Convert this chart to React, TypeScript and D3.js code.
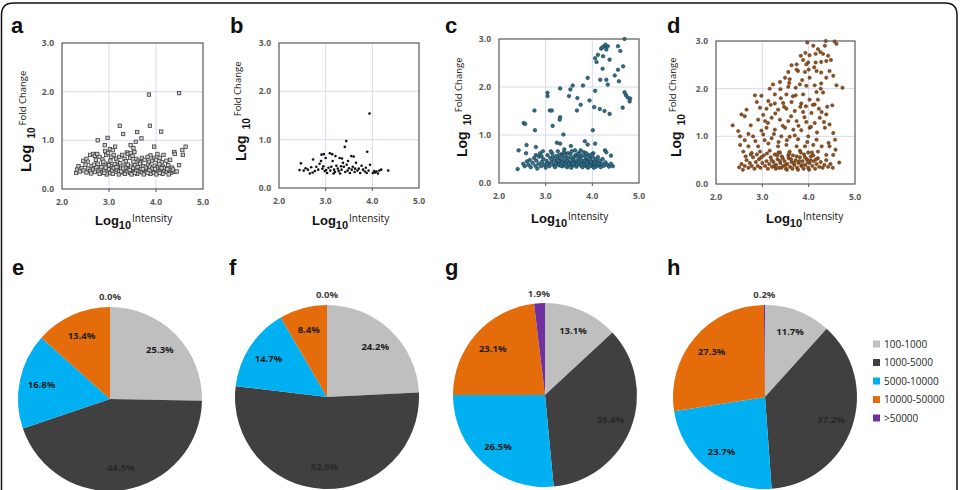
import * as d3 from 'd3';

// axis ticks shared by the four scatter plots
const intensityTicks = [2, 3, 4, 5];
const foldTicks = [0, 1, 2, 3];

// intensity bins used by the pies and the legend
const sizeBins = ['100-1000', '1000-5000', '5000-10000', '10000-50000', '>50000'];
const binColours = ['#BFBFBF', '#404040', '#00B0F0', '#E46C0A', '#7030A0'];

// percentage of proteins in each bin
const shareE = [25.3, 44.5, 16.8, 13.4, 0.0];
const shareF = [24.2, 52.6, 14.7, 8.4, 0.0];
const shareG = [13.1, 35.4, 26.5, 23.1, 1.9];
const shareH = [11.7, 37.2, 23.7, 27.3, 0.2];

type Pt = [number, number];

// [log10 intensity, log10 fold change]
const pointsA: Pt[] = [
  [3.85, 1.94], [4.49, 1.97], [3.23, 1.3], [3.87, 1.3], [3.3, 1.13], [3.6, 1.17], [4.11, 1.18], [2.76, 1.0],
  [2.97, 1.05], [3.69, 1.04], [3.57, 0.97], [3.46, 0.9], [3.96, 0.87], [2.91, 0.9], [3.13, 0.87], [4.63, 0.87],
  [4.56, 0.8], [4.39, 0.76], [4.57, 0.7], [4.49, 0.49], [3.02, 0.82], [3.08, 0.8], [2.92, 0.78], [3.52, 0.84],
  [3.38, 0.75], [3.4, 0.72], [3.46, 0.74], [3.54, 0.76], [4.03, 0.72], [3.88, 0.69], [4.16, 0.7], [3.96, 0.64],
  [4.4, 0.72], [2.45, 0.58], [2.52, 0.62], [2.6, 0.7], [2.66, 0.72], [2.7, 0.68], [2.75, 0.72], [2.8, 0.66],
  [2.86, 0.61], [2.94, 0.7], [2.98, 0.74], [3.05, 0.66], [3.1, 0.7], [3.15, 0.62], [3.22, 0.66], [3.28, 0.7],
  [3.33, 0.62], [3.45, 0.64], [3.5, 0.68], [3.58, 0.62], [3.63, 0.58], [3.7, 0.64], [3.76, 0.6], [3.82, 0.66],
  [3.91, 0.58], [4.0, 0.6], [4.08, 0.64], [4.22, 0.58], [4.3, 0.6], [2.55, 0.56], [2.72, 0.6], [2.88, 0.56],
  [3.03, 0.58], [3.18, 0.56], [3.36, 0.57], [3.52, 0.56], [3.67, 0.55], [3.85, 0.56], [4.12, 0.55],
  [2.3, 0.33], [2.32, 0.4], [2.35, 0.47], [2.38, 0.36], [2.42, 0.43], [2.46, 0.38], [2.5, 0.5], [2.52, 0.34],
  [2.56, 0.42], [2.6, 0.37], [2.63, 0.47], [2.66, 0.4], [2.7, 0.35], [2.73, 0.45], [2.76, 0.52], [2.78, 0.38],
  [2.82, 0.42], [2.85, 0.34], [2.88, 0.48], [2.9, 0.39], [2.93, 0.44], [2.96, 0.36], [2.98, 0.52], [3.0, 0.41],
  [3.02, 0.33], [3.05, 0.47], [3.07, 0.38], [3.1, 0.43], [3.12, 0.51], [3.14, 0.35], [3.17, 0.4], [3.19, 0.46],
  [3.22, 0.37], [3.24, 0.53], [3.26, 0.42], [3.29, 0.34], [3.31, 0.48], [3.33, 0.39], [3.36, 0.44], [3.38, 0.36],
  [3.4, 0.5], [3.42, 0.41], [3.45, 0.33], [3.47, 0.46], [3.49, 0.38], [3.52, 0.43], [3.54, 0.35], [3.56, 0.49],
  [3.59, 0.4], [3.61, 0.45], [3.63, 0.36], [3.66, 0.52], [3.68, 0.41], [3.7, 0.34], [3.73, 0.47], [3.75, 0.39],
  [3.78, 0.44], [3.8, 0.35], [3.83, 0.5], [3.85, 0.4], [3.87, 0.46], [3.9, 0.37], [3.92, 0.42], [3.95, 0.33],
  [3.97, 0.48], [4.0, 0.39], [4.02, 0.44], [4.05, 0.36], [4.07, 0.51], [4.1, 0.4], [4.13, 0.34], [4.15, 0.46],
  [4.18, 0.38], [4.2, 0.43], [4.23, 0.35], [4.26, 0.49], [4.28, 0.39], [4.31, 0.33], [4.34, 0.44], [4.37, 0.37],
  [4.4, 0.35], [4.44, 0.36], [2.62, 0.32], [2.8, 0.31], [2.95, 0.3], [3.08, 0.31], [3.21, 0.3], [3.34, 0.31],
  [3.48, 0.3], [3.6, 0.31], [3.74, 0.3], [3.88, 0.31], [4.01, 0.3], [4.14, 0.31], [4.27, 0.3], [2.68, 0.5],
  [2.84, 0.45], [3.0, 0.49], [3.16, 0.45], [3.3, 0.42], [3.44, 0.39], [3.58, 0.37], [3.72, 0.41], [3.86, 0.38],
  [3.98, 0.41], [4.12, 0.43], [4.24, 0.41], [4.36, 0.4], [2.9, 0.33], [3.26, 0.36], [3.55, 0.33], [3.82, 0.33],
  [4.08, 0.33],
];

const pointsB: Pt[] = [
  [3.94, 1.54], [3.44, 0.97], [3.41, 0.85], [3.89, 0.75], [2.91, 0.69], [2.96, 0.7], [3.09, 0.72], [3.14, 0.7],
  [3.21, 0.66], [3.3, 0.62], [3.55, 0.66], [3.6, 0.65], [2.73, 0.59], [2.47, 0.51], [2.44, 0.37], [2.57, 0.41],
  [2.62, 0.38], [2.66, 0.3], [2.72, 0.32], [2.8, 0.44], [2.84, 0.38], [2.87, 0.5], [2.9, 0.56], [2.95, 0.45],
  [2.98, 0.35], [3.01, 0.37], [3.03, 0.31], [3.06, 0.42], [3.12, 0.44], [3.15, 0.56], [3.18, 0.38], [3.2, 0.33],
  [3.23, 0.46], [3.26, 0.4], [3.28, 0.35], [3.31, 0.3], [3.34, 0.38], [3.37, 0.52], [3.39, 0.44], [3.42, 0.33],
  [3.45, 0.48], [3.47, 0.36], [3.5, 0.41], [3.52, 0.31], [3.56, 0.38], [3.58, 0.44], [3.62, 0.33], [3.65, 0.52],
  [3.68, 0.36], [3.71, 0.4], [3.74, 0.31], [3.77, 0.46], [3.8, 0.38], [3.84, 0.34], [3.86, 0.42], [3.92, 0.36],
  [3.95, 0.48], [4.01, 0.31], [4.04, 0.35], [4.09, 0.34], [4.12, 0.3], [4.15, 0.36], [4.19, 0.38], [4.34, 0.36],
  [2.53, 0.36], [2.69, 0.43], [2.77, 0.35], [2.93, 0.4], [3.1, 0.36], [3.17, 0.3], [3.33, 0.45], [3.48, 0.56],
  [3.63, 0.4], [3.88, 0.31], [4.06, 0.32], [3.35, 0.61], [3.0, 0.62],
];

const pointsC: Pt[] = [
  [4.69, 3.0], [4.55, 2.85], [4.6, 2.75], [4.26, 2.85], [4.19, 2.8], [4.33, 2.85], [4.12, 2.67], [4.06, 2.6],
  [4.23, 2.64], [4.37, 2.57], [4.09, 2.52], [4.66, 2.43], [4.55, 2.36], [4.22, 2.38], [4.48, 2.24], [4.3, 2.15],
  [4.17, 2.15], [3.9, 2.19], [4.57, 2.12], [4.33, 2.05], [3.58, 2.03], [3.8, 2.03], [3.53, 1.95], [3.31, 1.97],
  [3.04, 1.88], [3.04, 1.81], [4.06, 1.92], [4.69, 1.89], [4.72, 1.83], [4.76, 1.78], [4.81, 1.76], [4.8, 1.7],
  [3.94, 1.72], [3.5, 1.81], [3.68, 1.77], [3.75, 1.63], [4.04, 1.58], [4.16, 1.54], [4.26, 1.5], [4.37, 1.44],
  [4.65, 1.57], [3.67, 1.51], [3.09, 1.51], [3.13, 1.51], [2.76, 1.51], [3.31, 1.37], [3.3, 1.32], [3.15, 1.19],
  [2.53, 1.25], [2.56, 1.23], [2.77, 1.1], [4.01, 1.1], [3.38, 1.01], [2.59, 0.79], [2.79, 0.75], [2.42, 0.68],
  [3.24, 0.84], [3.31, 0.82], [3.54, 0.77], [3.84, 0.87], [3.9, 0.8], [4.06, 0.82], [4.27, 0.68], [4.3, 0.64],
  [4.4, 0.57], [2.4, 0.29], [4.28, 2.88], [4.22, 2.83], [4.3, 2.78],
  [2.52, 0.4], [2.55, 0.35], [2.6, 0.45], [2.63, 0.38], [2.68, 0.33], [2.72, 0.42], [2.75, 0.52], [2.78, 0.36],
  [2.8, 0.47], [2.82, 0.3], [2.85, 0.4], [2.86, 0.55], [2.88, 0.62], [2.9, 0.35], [2.92, 0.44], [2.95, 0.5],
  [2.97, 0.38], [3.0, 0.32], [3.02, 0.46], [3.04, 0.58], [3.06, 0.4], [3.08, 0.35], [3.1, 0.52], [3.12, 0.44],
  [3.14, 0.62], [3.16, 0.38], [3.18, 0.48], [3.2, 0.33], [3.22, 0.56], [3.24, 0.42], [3.26, 0.66], [3.28, 0.37],
  [3.3, 0.5], [3.32, 0.44], [3.34, 0.6], [3.36, 0.35], [3.38, 0.46], [3.4, 0.7], [3.42, 0.4], [3.44, 0.54],
  [3.46, 0.33], [3.48, 0.62], [3.5, 0.44], [3.52, 0.38], [3.54, 0.52], [3.56, 0.66], [3.58, 0.36], [3.6, 0.48],
  [3.62, 0.42], [3.64, 0.58], [3.66, 0.34], [3.68, 0.46], [3.7, 0.62], [3.72, 0.4], [3.74, 0.52], [3.76, 0.36],
  [3.78, 0.56], [3.8, 0.44], [3.82, 0.64], [3.84, 0.38], [3.86, 0.5], [3.88, 0.34], [3.9, 0.46], [3.92, 0.58],
  [3.94, 0.4], [3.96, 0.52], [3.98, 0.36], [4.0, 0.44], [4.02, 0.62], [4.04, 0.38], [4.06, 0.48], [4.08, 0.34],
  [4.1, 0.42], [4.12, 0.54], [4.14, 0.37], [4.16, 0.46], [4.18, 0.33], [4.2, 0.4], [4.22, 0.5], [4.25, 0.36],
  [4.28, 0.43], [4.32, 0.38], [4.36, 0.34], [4.4, 0.4], [4.44, 0.35],
  [3.21, 0.4], [3.25, 0.5], [3.29, 0.58], [3.33, 0.36], [3.37, 0.54], [3.41, 0.62], [3.45, 0.46], [3.49, 0.4],
  [3.53, 0.6], [3.57, 0.44], [3.61, 0.54], [3.65, 0.4], [3.69, 0.54], [3.73, 0.6], [3.77, 0.46], [3.81, 0.38],
  [3.85, 0.56], [3.89, 0.42], [3.93, 0.5], [3.97, 0.44], [4.01, 0.54], [4.05, 0.42], [4.09, 0.5], [4.13, 0.4],
  [3.35, 0.42], [3.47, 0.52], [3.59, 0.4], [3.71, 0.44], [3.83, 0.46], [3.95, 0.36], [3.43, 0.36], [3.55, 0.32],
  [3.67, 0.38], [3.79, 0.33], [3.91, 0.32], [4.03, 0.32], [3.39, 0.64], [3.63, 0.68], [3.75, 0.68], [3.87, 0.62],
  [3.99, 0.6], [3.27, 0.46], [3.15, 0.54], [3.03, 0.4], [2.91, 0.56], [2.79, 0.58], [2.66, 0.48], [2.58, 0.62],
  [2.94, 0.66], [3.11, 0.66],
];

const pointsD: Pt[] = [
  [3.97, 2.97], [4.37, 3.0], [4.6, 2.94], [4.56, 2.99], [4.2, 2.83], [4.25, 2.77], [4.15, 2.73], [4.31, 2.73],
  [4.42, 2.69], [4.02, 2.7], [3.83, 2.69], [3.88, 2.6], [3.99, 2.55], [3.95, 2.51], [3.74, 2.51], [3.63, 2.49],
  [4.15, 2.55], [4.27, 2.56], [4.38, 2.58], [3.77, 2.37], [3.56, 2.35], [3.92, 2.35], [4.02, 2.23], [4.17, 2.37],
  [4.27, 2.34], [4.45, 2.37], [4.53, 2.27], [4.38, 2.23], [3.49, 2.23], [3.59, 2.2], [3.38, 2.14], [3.23, 2.09],
  [3.16, 2.0], [3.39, 1.99], [3.56, 2.04], [3.72, 2.02], [3.81, 2.09], [3.95, 2.06], [4.13, 2.07], [4.27, 2.11],
  [4.6, 2.07], [4.73, 2.02], [4.17, 1.93], [4.31, 1.92], [3.27, 1.88], [2.84, 1.86], [2.98, 1.85], [3.52, 1.88],
  [3.72, 1.86], [3.88, 1.88], [4.02, 1.77], [4.2, 1.77], [3.13, 1.74], [3.27, 1.69], [2.88, 1.72], [3.45, 1.7],
  [3.63, 1.72], [3.84, 1.69], [3.94, 1.63], [4.13, 1.67], [4.51, 1.65], [2.66, 1.56], [2.55, 1.46], [2.62, 1.42],
  [2.95, 1.6], [3.09, 1.58], [3.34, 1.56], [3.52, 1.58], [3.7, 1.53], [3.88, 1.51], [4.06, 1.49], [4.28, 1.51],
  [4.38, 1.46], [4.24, 1.39], [2.91, 1.35], [3.06, 1.32], [3.2, 1.39], [3.38, 1.35], [3.56, 1.32], [3.74, 1.32],
  [3.95, 1.3], [4.13, 1.28], [2.36, 1.23], [2.75, 1.23], [3.09, 1.18], [3.27, 1.14], [3.49, 1.18], [3.67, 1.14],
  [3.84, 1.13], [4.02, 1.18], [4.35, 1.18], [4.45, 1.25], [2.48, 1.11], [2.52, 1.0], [2.8, 1.0], [3.02, 1.04],
  [3.2, 0.96], [3.41, 1.0], [3.59, 0.99], [3.77, 0.94], [3.99, 1.0], [4.17, 0.93], [4.53, 1.07], [4.57, 0.93],
  [2.52, 0.82], [2.7, 0.79], [2.91, 0.79], [3.13, 0.85], [3.34, 0.79], [3.52, 0.82], [3.74, 0.79], [3.92, 0.79],
  [4.1, 0.82], [4.28, 0.79], [4.45, 0.79], [4.58, 0.72], [2.59, 0.68], [2.77, 0.65], [2.95, 0.68], [3.16, 0.7],
  [3.38, 0.66], [3.59, 0.68], [3.81, 0.7], [3.99, 0.66], [4.2, 0.68], [4.38, 0.61], [4.53, 0.61], [4.66, 0.45],
  [2.62, 0.92], [2.7, 1.05], [2.85, 0.9], [2.98, 1.12], [3.05, 0.92], [3.12, 1.28], [3.25, 1.05], [3.28, 1.48],
  [3.35, 0.88], [3.44, 1.22], [3.47, 1.62], [3.53, 0.92], [3.62, 1.42], [3.66, 1.84], [3.7, 1.02], [3.78, 1.22],
  [3.82, 1.62], [3.86, 2.18], [3.91, 1.4], [3.97, 0.88], [4.05, 1.2], [4.09, 1.66], [4.12, 2.45], [4.18, 1.08],
  [4.22, 1.58], [4.26, 2.0], [4.33, 1.3], [4.4, 1.62], [4.48, 2.6], [4.43, 0.86], [3.02, 1.45], [3.18, 1.66],
  [3.4, 1.8], [3.58, 2.12], [3.74, 2.4], [3.93, 2.75], [4.0, 2.4], [4.1, 2.9], [4.35, 2.9],
  [2.5, 0.35], [2.55, 0.42], [2.58, 0.3], [2.62, 0.38], [2.66, 0.5], [2.7, 0.34], [2.73, 0.44], [2.77, 0.38],
  [2.8, 0.56], [2.83, 0.32], [2.86, 0.46], [2.9, 0.38], [2.93, 0.52], [2.96, 0.34], [3.0, 0.44], [3.03, 0.6],
  [3.06, 0.38], [3.09, 0.48], [3.12, 0.32], [3.15, 0.42], [3.18, 0.56], [3.21, 0.36], [3.24, 0.46], [3.27, 0.62],
  [3.3, 0.4], [3.33, 0.52], [3.36, 0.34], [3.39, 0.44], [3.42, 0.58], [3.45, 0.38], [3.48, 0.48], [3.51, 0.32],
  [3.54, 0.42], [3.57, 0.54], [3.6, 0.36], [3.63, 0.46], [3.66, 0.6], [3.69, 0.4], [3.72, 0.5], [3.75, 0.34],
  [3.78, 0.44], [3.81, 0.56], [3.84, 0.38], [3.87, 0.48], [3.9, 0.62], [3.93, 0.4], [3.96, 0.52], [3.99, 0.34],
  [4.02, 0.44], [4.05, 0.58], [4.08, 0.38], [4.11, 0.48], [4.14, 0.32], [4.17, 0.42], [4.2, 0.54], [4.23, 0.36],
  [4.26, 0.46], [4.3, 0.34], [4.34, 0.4], [4.38, 0.5], [4.42, 0.36], [4.47, 0.42], [4.52, 0.34],
  [3.2, 0.5], [3.26, 0.38], [3.32, 0.6], [3.38, 0.48], [3.44, 0.54], [3.5, 0.4], [3.56, 0.6], [3.62, 0.52],
  [3.68, 0.44], [3.74, 0.58], [3.8, 0.48], [3.86, 0.4], [3.92, 0.56], [3.98, 0.46], [4.04, 0.5], [4.1, 0.6],
  [4.16, 0.52], [3.29, 0.32], [3.41, 0.34], [3.53, 0.3], [3.65, 0.32], [3.77, 0.3], [3.89, 0.32], [4.01, 0.3],
  [2.88, 0.62], [2.98, 0.56], [2.75, 0.62], [2.64, 0.58], [3.1, 0.64], [3.35, 0.66], [3.58, 0.64], [3.83, 0.66],
  [4.07, 0.66],
];

const W = 963;
const H = 490;
const sans = "'Open Sans', 'Noto Sans', sans-serif";
const heavy = "'Liberation Sans', Arial, sans-serif";

type Marker = 'square' | 'dot' | 'teal' | 'brown';

interface ScatterSpec {
  letter: string;
  letterX: number;
  points: Pt[];
  marker: Marker;
  left: number;
  right: number;
  top: number;
  bottom: number;
  yTitleX: number;
  yTitleY: number;
  yTitleSize: number;
  xTitleX: number;
  xTitleY: number;
}

const scatterPanels: ScatterSpec[] = [
  { letter: 'a', letterX: 11, points: pointsA, marker: 'square', left: 62, right: 203, top: 43, bottom: 189, yTitleX: 31, yTitleY: 172, yTitleSize: 15, xTitleX: 95, xTitleY: 225 },
  { letter: 'b', letterX: 230, points: pointsB, marker: 'dot', left: 279, right: 419, top: 43, bottom: 188, yTitleX: 246, yTitleY: 161, yTitleSize: 14, xTitleX: 312, xTitleY: 225 },
  { letter: 'c', letterX: 445, points: pointsC, marker: 'teal', left: 499, right: 639, top: 39, bottom: 183, yTitleX: 467, yTitleY: 157, yTitleSize: 14, xTitleX: 531, xTitleY: 223 },
  { letter: 'd', letterX: 667, points: pointsD, marker: 'brown', left: 716, right: 855, top: 41, bottom: 184, yTitleX: 681, yTitleY: 157, yTitleSize: 14, xTitleX: 766, xTitleY: 223 },
];

interface PieSpec {
  letter: string;
  letterX: number;
  shares: number[];
  cx: number;
  cy: number;
}

const piePanels: PieSpec[] = [
  { letter: 'e', letterX: 12, shares: shareE, cx: 110, cy: 399 },
  { letter: 'f', letterX: 229, shares: shareF, cx: 327, cy: 397 },
  { letter: 'g', letterX: 445, shares: shareG, cx: 545, cy: 395 },
  { letter: 'h', letterX: 667, shares: shareH, cx: 765, cy: 397 },
];

const pieRadius = 92;

function Point({ x, y, marker }: { x: number; y: number; marker: Marker }) {
  if (marker === 'square') {
    return <rect x={x - 1.7} y={y - 1.7} width={3.4} height={3.4} fill="#cfcfcf" stroke="#3f3f3f" strokeWidth={0.8} />;
  }
  if (marker === 'dot') {
    return <circle cx={x} cy={y} r={1.3} fill="#111" />;
  }
  if (marker === 'teal') {
    return <circle cx={x} cy={y} r={1.8} fill="#2f6f8c" stroke="#163a4a" strokeWidth={0.6} />;
  }
  return <circle cx={x} cy={y} r={1.7} fill="#8e5220" stroke="#5a3010" strokeWidth={0.5} />;
}

function ScatterPanel({ spec }: { spec: ScatterSpec }) {
  const x = d3.scaleLinear().domain([2, 5]).range([spec.left, spec.right]);
  const y = d3.scaleLinear().domain([0, 3]).range([spec.bottom, spec.top]);
  const grid = '#d5dbee';

  return (
    <g>
      <text x={spec.letterX} y={33} fontFamily={heavy} fontWeight="bold" fontSize={22} fill="#111">
        {spec.letter}
      </text>

      {/* light grid inside the plot box */}
      {intensityTicks.slice(1, -1).map((t) => (
        <line key={`gx${t}`} x1={x(t)} x2={x(t)} y1={spec.top} y2={spec.bottom} stroke={grid} strokeWidth={1} />
      ))}
      {foldTicks.slice(1, -1).map((t) => (
        <line key={`gy${t}`} x1={spec.left} x2={spec.right} y1={y(t)} y2={y(t)} stroke={grid} strokeWidth={1} />
      ))}

      {spec.points.map(([px, py], i) => (
        <Point key={i} x={x(px)} y={y(py)} marker={spec.marker} />
      ))}

      <rect
        x={spec.left}
        y={spec.top}
        width={spec.right - spec.left}
        height={spec.bottom - spec.top}
        fill="none"
        stroke="#595959"
        strokeWidth={1.2}
      />
      {intensityTicks.slice(1, -1).map((t) => (
        <line key={`tx${t}`} x1={x(t)} x2={x(t)} y1={spec.bottom} y2={spec.bottom + 3} stroke="#595959" />
      ))}

      {intensityTicks.map((t) => (
        <text
          key={`lx${t}`}
          x={x(t)}
          y={spec.bottom + 15.5}
          textAnchor="middle"
          fontFamily={sans}
          fontWeight="bold"
          fontSize={8.5}
          fill="#595959"
        >
          {t.toFixed(1)}
        </text>
      ))}
      {foldTicks.map((t) => (
        <text
          key={`ly${t}`}
          x={spec.left - 8}
          y={y(t)}
          dy="0.35em"
          textAnchor="end"
          fontFamily={sans}
          fontWeight="bold"
          fontSize={8.5}
          fill="#595959"
        >
          {t.toFixed(1)}
        </text>
      ))}

      {/* y title: Log10 Fold Change, reading upward */}
      <text
        transform={`translate(${spec.yTitleX},${spec.yTitleY}) rotate(-90)`}
        fontFamily={heavy}
        fontWeight="bold"
        fill="#111"
      >
        <tspan fontSize={spec.yTitleSize}>Log</tspan>
        <tspan fontSize={10} dx={6} dy={4}>
          10
        </tspan>
        <tspan fontSize={9.5} dx={2} dy={-9} fontFamily={sans} fontWeight="normal">
          Fold Change
        </tspan>
      </text>

      {/* x title: Log10 Intensity */}
      <text x={spec.xTitleX} y={spec.xTitleY} fontFamily={heavy} fontWeight="bold" fill="#111">
        <tspan fontSize={13}>Log</tspan>
        <tspan fontSize={11} dy={4}>
          10
        </tspan>
        <tspan fontSize={10} dx={1} dy={-7} fontFamily={sans} fontWeight="normal">
          Intensity
        </tspan>
      </text>
    </g>
  );
}

function PiePanel({ spec }: { spec: PieSpec }) {
  const pie = d3
    .pie<number>()
    .sort(null)
    .value((d) => d);
  const arcs = pie(spec.shares);
  const arc = d3.arc<d3.PieArcDatum<number>>().innerRadius(0).outerRadius(pieRadius);
  const inner = d3.arc<d3.PieArcDatum<number>>().innerRadius(pieRadius * 0.76).outerRadius(pieRadius * 0.76);

  return (
    <g>
      <text x={spec.letterX} y={275} fontFamily={heavy} fontWeight="bold" fontSize={22} fill="#111">
        {spec.letter}
      </text>
      <g transform={`translate(${spec.cx},${spec.cy})`}>
        {arcs.map((a, i) => (
          <path key={i} d={arc(a) ?? ''} fill={binColours[i]} />
        ))}
        {arcs.map((a, i) => {
          const label = `${a.data.toFixed(1)}%`;
          if (a.data < 5) {
            // tiny slices get their label outside the rim
            const mid = (a.startAngle + a.endAngle) / 2;
            const rr = pieRadius + 10;
            return (
              <text
                key={`l${i}`}
                x={Math.sin(mid) * rr}
                y={-Math.cos(mid) * rr}
                dy="0.35em"
                textAnchor="middle"
                fontFamily={sans}
                fontWeight="bold"
                fontSize={9.5}
                fill="#404040"
              >
                {label}
              </text>
            );
          }
          const [lx, ly] = inner.centroid(a);
          return (
            <text
              key={`l${i}`}
              x={lx}
              y={ly}
              dy="0.35em"
              textAnchor="middle"
              fontFamily={sans}
              fontWeight="bold"
              fontSize={9.5}
              fill={i === 1 ? '#282828' : '#1e1e1e'}
            >
              {label}
            </text>
          );
        })}
      </g>
    </g>
  );
}

function Legend() {
  const row = d3.scaleLinear().domain([0, 4]).range([344, 418]);
  return (
    <g>
      {sizeBins.map((name, i) => (
        <g key={name} transform={`translate(873,${row(i)})`}>
          <rect x={0} y={-3.5} width={7} height={7} fill={binColours[i]} />
          <text x={11} y={0} dy="0.35em" fontFamily={sans} fontSize={10} fill="#262626">
            {name}
          </text>
        </g>
      ))}
    </g>
  );
}

export default function App() {
  return (
    <svg
      width={W}
      height={H}
      viewBox={`0 0 ${W} ${H}`}
      style={{ position: 'absolute', left: 0, top: 0, background: '#fff' }}
    >
      <rect width={W} height={H} fill="#fff" />
      <path d="M1.5,500 V15 Q1.5,3 13.5,3 H945 Q957,3 957,15 V500" fill="none" stroke="#111" strokeWidth={1.5} />
      {scatterPanels.map((s) => (
        <ScatterPanel key={s.letter} spec={s} />
      ))}
      {piePanels.map((p) => (
        <PiePanel key={p.letter} spec={p} />
      ))}
      <Legend />
    </svg>
  );
}
